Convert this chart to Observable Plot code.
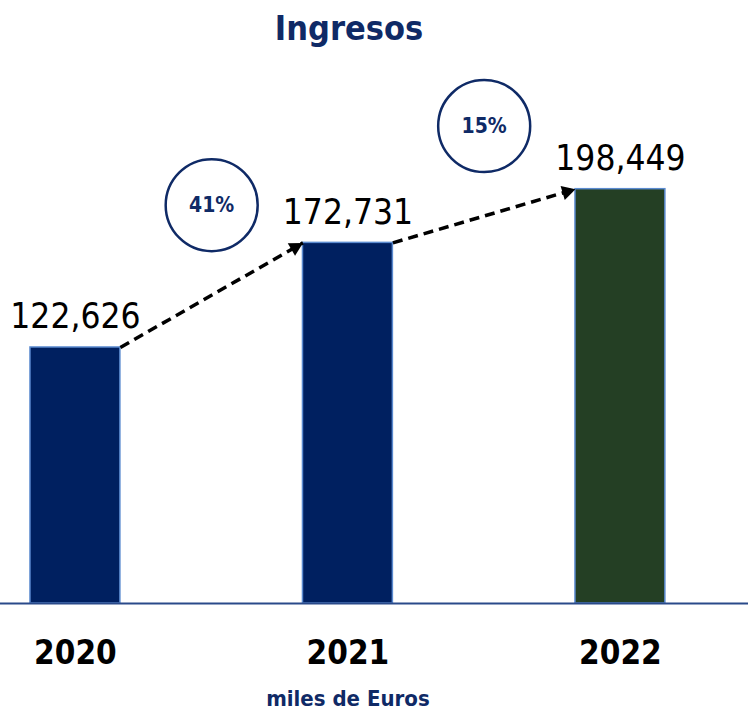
<!DOCTYPE html>
<html>
<head>
<meta charset="utf-8">
<script src="https://cdn.jsdelivr.net/npm/d3@7"></script>
<script src="https://cdn.jsdelivr.net/npm/@observablehq/plot@0.6"></script>
<style>
  html, body { margin: 0; padding: 0; background: #fff; }
  body { width: 748px; height: 713px; overflow: hidden; font-family: "DejaVu Sans", sans-serif; font-stretch: condensed; }
  #title { width: 698px; height: 56px; line-height: 56px; text-align: center; font-size: 34px; font-weight: bold; color: #0f2a66; font-stretch: condensed; }
  #chart svg { display: block; overflow: visible; }
  #chart svg text { font-stretch: condensed; }
</style>
</head>
<body>
<div id="title">Ingresos</div>
<div id="chart"></div>
<script>
const years = [2020, 2021, 2022];
const values = [122626, 172731, 198449];
const barColors = ["#002060", "#002060", "#243f24"];
const unitLabel = "miles de Euros";

const bars = years.map((year, i) => ({year, value: values[i], color: barColors[i]}));
const steps = bars.slice(1).map((b, i) => ({
  from: bars[i], to: b,
  pct: Math.round((b.value / bars[i].value - 1) * 100) + "%"
}));

const half = 0.165;
const fam = '"DejaVu Sans", sans-serif';

function headMarker(color) {
  const m = d3.create("svg:marker")
    .attr("viewBox", "-8 -6 10 12")
    .attr("markerUnits", "userSpaceOnUse")
    .attr("markerWidth", 16)
    .attr("markerHeight", 16)
    .attr("refX", 2)
    .attr("refY", 0)
    .attr("orient", "auto");
  m.append("path").attr("d", "M-8,-5.5L2,0L-8,5.5Z").attr("fill", "#000").attr("stroke", "none");
  return m.node();
}

const chart = Plot.plot({
  width: 748,
  height: 657,
  marginLeft: 0,
  marginRight: 0,
  marginTop: 0,
  marginBottom: 110,
  style: {fontFamily: fam, background: "transparent", overflow: "visible"},
  x: {type: "linear", domain: [2019.725, 2022.47], axis: null},
  y: {domain: [0, 262000], axis: null},
  marks: [
    Plot.rectY(bars, {x1: d => d.year - half, x2: d => d.year + half, y1: 0, y2: "value", fill: "color", stroke: "#5b8bd0", strokeWidth: 1.5}),
    Plot.ruleY([0], {stroke: "#2a4a8a", strokeWidth: 2}),
    Plot.text(bars, {x: "year", y: "value", text: d => d3.format(",")(d.value), lineAnchor: "bottom", dy: -19, fontSize: 35, fill: "#000", fontWeight: 500}),
    Plot.text(bars, {x: "year", y: 0, text: d => String(d.year), lineAnchor: "top", dy: 37, fontSize: 33, fontWeight: "bold", fill: "#000"}),
    Plot.text([unitLabel], {x: () => 2021, y: () => 0, text: d => d, lineAnchor: "middle", dy: 95, fontSize: 22, fontWeight: "bold", fill: "#0f2a66"}),
    Plot.link(steps, {
      x1: d => d.from.year + half, y1: d => d.from.value,
      x2: d => d.to.year - half, y2: d => d.to.value,
      stroke: "#000", strokeWidth: 3.5, strokeDasharray: "10,6",
      markerEnd: headMarker
    }),
    Plot.dot(steps, {x: d => (d.from.year + d.to.year) / 2, y: d => (d.from.value + d.to.value) / 2, dy: -90, r: 46, stroke: "#0f2a66", strokeWidth: 2.5, fill: "#fff"}),
    Plot.text(steps, {x: d => (d.from.year + d.to.year) / 2, y: d => (d.from.value + d.to.value) / 2, dy: -90, text: "pct", fontSize: 21, fontWeight: "bold", fill: "#0f2a66"})
  ]
});
document.getElementById("chart").append(chart);
</script>
</body>
</html>
